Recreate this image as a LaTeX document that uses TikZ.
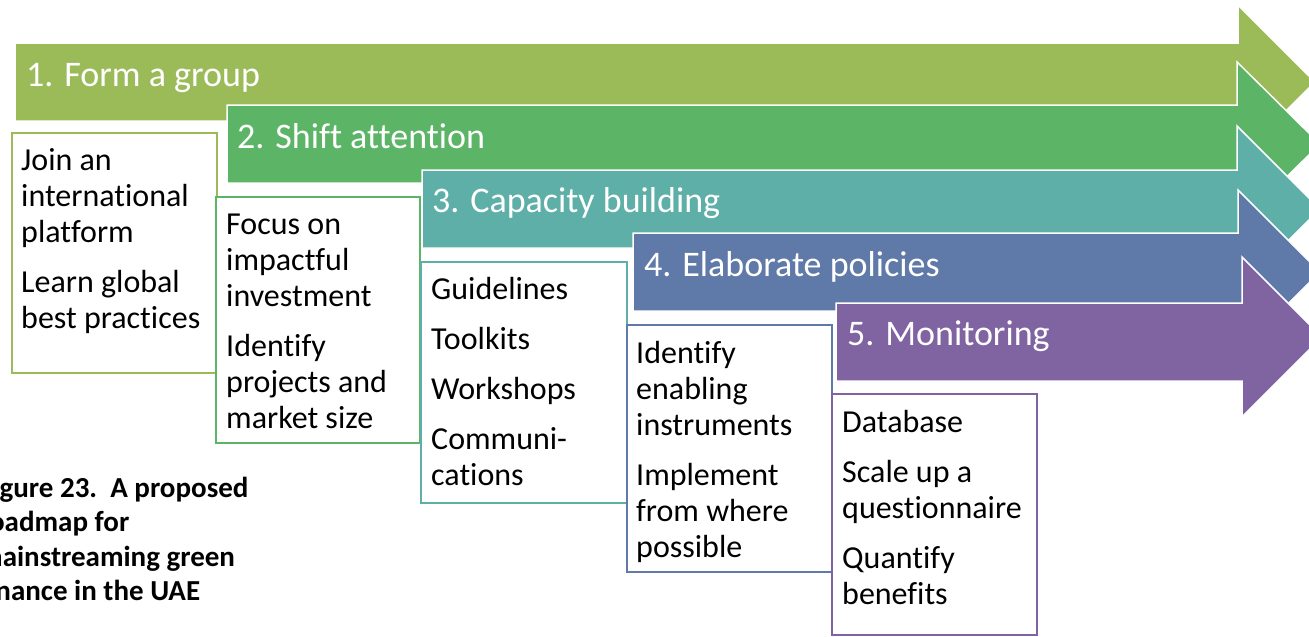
\documentclass[tikz,border=0pt]{standalone}
\usepackage{fontspec}
\setmainfont{Carlito}[Ligatures=NoCommon]
\definecolor{cA}{HTML}{9BBB59}
\definecolor{cB}{HTML}{5CB467}
\definecolor{cC}{HTML}{5DAFA7}
\definecolor{cD}{HTML}{5F79A8}
\definecolor{cE}{HTML}{8064A2}
\newcommand{\topstrut}{\rule{0pt}{26pt}}
\tikzset{
  roadarrow/.style={fill=#1, draw=white, line width=1.5pt, line join=miter},
  stepbox/.style={fill=white, draw=#1, line width=2pt},
  steplabel/.style={anchor=base west, inner sep=0pt, text=white, font=\fontsize{36}{40}\selectfont},
  boxtext/.style={anchor=north west, inner sep=0pt, align=left, text=black, font=\fontsize{32}{36}\selectfont},
  captext/.style={anchor=north west, inner sep=0pt, align=left, text=black, font=\bfseries\fontsize{29}{34.5}\selectfont}
}
\begin{document}
\begin{tikzpicture}[x=1pt,y=-1pt]
\useasboundingbox (0,0) rectangle (1309,637);
\clip (0,0) rectangle (1309,637);
% step 1
\draw[roadarrow=cA] (15,43) -- (1238,43) -- (1238,5) -- (1315,82) -- (1238,159) -- (1238,121) -- (15,121) -- cycle;
\node[steplabel] (l1) at (26,86) {1. Form a group};
\draw[stepbox=cA] (12,133) rectangle (217,373);
\node[boxtext] (t1) at (21,144) {\topstrut Join an\\international\\platform\\[14pt]Learn global\\best practices};
% step 2
\draw[roadarrow=cB] (227,105) -- (1237,105) -- (1237,62) -- (1320,144) -- (1237,226) -- (1237,183) -- (227,183) -- cycle;
\node[steplabel] (l2) at (237,148) {2. Shift attention};
\draw[stepbox=cB] (216,197) rectangle (420,443);
\node[boxtext] (t2) at (226,208) {\topstrut Focus on\\impactful\\investment\\[14pt]Identify\\projects and\\market size};
% step 3
\draw[roadarrow=cC] (422,170) -- (1237,170) -- (1237,126) -- (1320,209) -- (1237,292) -- (1237,248) -- (422,248) -- cycle;
\node[steplabel] (l3) at (432,212) {3. Capacity building};
\draw[stepbox=cC] (421,262) rectangle (627,503);
\node[boxtext] (t3) at (431,273) {\topstrut Guidelines\\[14pt]Toolkits\\[14pt]Workshops\\[14pt]Communi-\\cations};
% step 4
\draw[roadarrow=cD] (633,233) -- (1238,233) -- (1238,190) -- (1320,272) -- (1238,354) -- (1238,311) -- (633,311) -- cycle;
\node[steplabel] (l4) at (644,276) {4. Elaborate policies};
\draw[stepbox=cD] (627,325) rectangle (832,572);
\node[boxtext] (t4) at (636,337) {\topstrut Identify\\enabling\\instruments\\[14pt]Implement\\from where\\possible};
% step 5
\draw[roadarrow=cE] (836,303) -- (1242,303) -- (1242,257) -- (1322,337) -- (1242,417) -- (1242,381) -- (836,381) -- cycle;
\node[steplabel] (l5) at (847,345) {5. Monitoring};
\draw[stepbox=cE] (832,394) rectangle (1037,635);
\node[boxtext] (t5) at (842,406) {\topstrut Database\\[14pt]Scale up a\\questionnaire\\[14pt]Quantify\\benefits};
% caption
\node[captext] (cap) at (-21,471) {\topstrut Figure 23.\ \ A proposed\\roadmap for\\mainstreaming green\\finance in the UAE};
\end{tikzpicture}
\end{document}
